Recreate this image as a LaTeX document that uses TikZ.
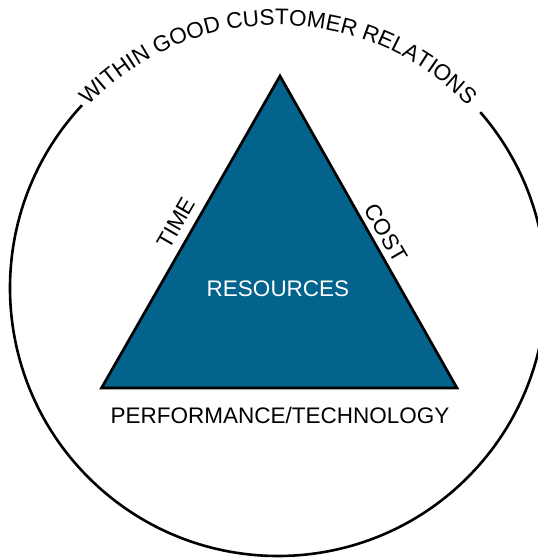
\documentclass[tikz,border=0pt]{standalone}
\usepackage{fontspec}
\setmainfont{Liberation Sans}
\usetikzlibrary{decorations.text}
\definecolor{triblue}{RGB}{3,99,140}
\tikzset{
  lbl/.style={font=\fontsize{22.5}{24}\selectfont, inner sep=0pt},
  ring/.style={line width=2.6pt},
  tri/.style={line width=2.7pt, fill=triblue, line join=miter}
}
\begin{document}
\begin{tikzpicture}[x=1pt,y=1pt]
\useasboundingbox (0,0) rectangle (538,558);
\coordinate (c) at (278,270);
% circle with gap at top
\draw[ring] (c) ++(137:268) arc[start angle=137, end angle=401, radius=268];
% text along arc
\path[decorate, decoration={text along path, text align=center,
  text={|\fontsize{22.5}{24}\selectfont|WITHIN GOOD CUSTOMER RELATIONS}}]
  (c) ++(170:263) arc[start angle=170, end angle=10, radius=263];
% triangle
\coordinate (apex) at (280,482);
\coordinate (bl) at (101.5,170);
\coordinate (br) at (457,170);
\draw[tri] (apex) -- (br) -- (bl) -- cycle;
\node[lbl, text=white] (res) at (278,269) {RESOURCES};
\node[lbl, rotate=60] (time) at (176,335) {TIME};
\node[lbl, rotate=-60] (cost) at (386,325) {COST};
\node[lbl] (perf) at (280,143) {PERFORMANCE/TECHNOLOGY};
\end{tikzpicture}
\end{document}
